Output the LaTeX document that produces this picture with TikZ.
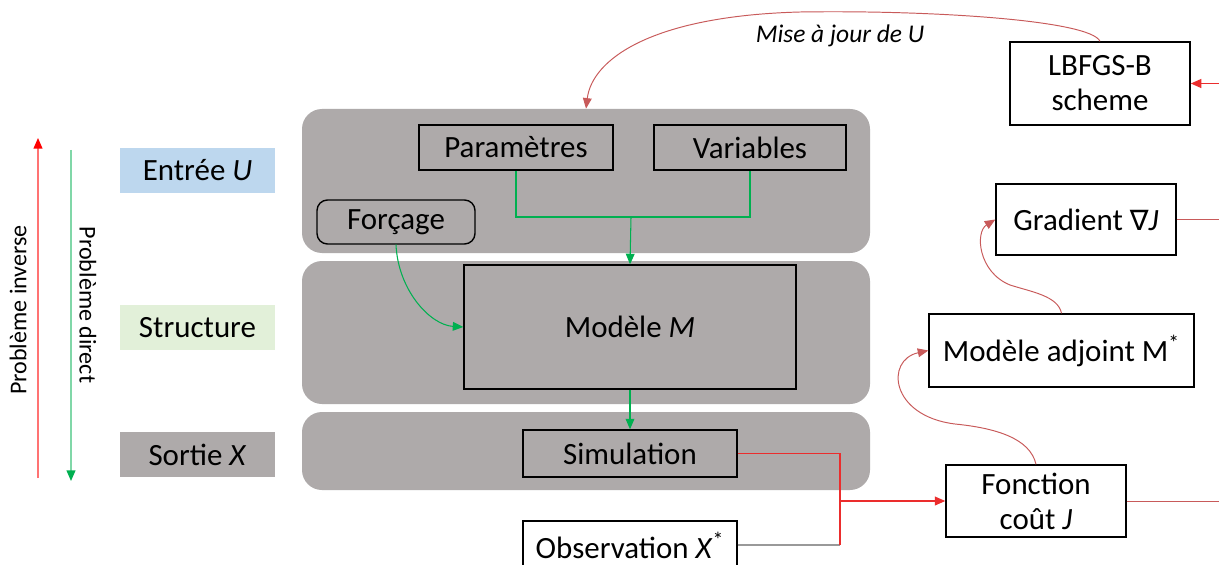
\documentclass[tikz,border=0pt]{standalone}
\usepackage{fontspec}
\setmainfont{Carlito}
\newfontfamily\symfont{DejaVu Sans}
\usetikzlibrary{positioning, calc, arrows.meta}
\newdimen\pxu \pxu=0.02cm
\definecolor{panelgray}{RGB}{174,170,170}
\definecolor{inblue}{RGB}{189,215,238}
\definecolor{strgreen}{RGB}{226,240,217}
\definecolor{fwdgreen}{RGB}{0,176,80}
\definecolor{invred}{RGB}{235,45,45}
\definecolor{updred}{RGB}{200,90,90}
\tikzset{
  sz/.style 2 args={minimum width=#1\pxu, minimum height=#2\pxu, inner sep=0},
  big panel/.style={fill=panelgray, rounded corners=0.4cm},
  side lbl/.style={sz={155}{45}},
  blk/.style={draw, line width=0.8pt},
  blk white/.style={blk, fill=white, align=center},
  tip/.style={-{Triangle[length=6pt, width=5pt]}},
  fwd edge/.style={fwdgreen, line width=0.6pt},
  inv edge/.style={invred, line width=0.9pt},
  upd edge/.style={updred, line width=0.55pt},
  lbl/.style={font=\fontsize{13.7}{16}\selectfont, inner sep=1}
}

\begin{document}
\begin{tikzpicture}[x=0.02cm, y=-0.02cm, font=\fontsize{17.6}{20}\selectfont]
\useasboundingbox[fill=white] (0,0) rectangle (1219,564);

% direction arrows
\coordinate (inv_a) at (38,478);
\coordinate (inv_b) at (38,138);
\coordinate (dir_a) at (71,150);
\coordinate (dir_b) at (71,481);
\draw[red!55, line width=0.8pt, -{Triangle[length=6pt, width=5pt, red]}] (inv_a) -- (inv_b);
\draw[fwdgreen!50, line width=0.8pt, -{Triangle[length=6pt, width=5pt, fwdgreen]}] (dir_a) -- (dir_b);
\node[lbl, rotate=90] (inv_lbl) at (18,310) {Problème inverse};
\node[lbl, rotate=-90] (dir_lbl) at (88,305) {Problème direct};

% level labels
\node[side lbl, fill=inblue] (entree) at (197.5,170.5) {Entrée \textit{U}};
\node[side lbl, fill=strgreen] (struct) at (197.5,327.5) {Structure};
\node[side lbl, fill=panelgray] (sortie) at (197.5,454.5) {Sortie \textit{X}};

% panels
\node[big panel, sz={568}{144}] (p1) at (586,181) {};
\node[big panel, sz={568}{143}] (p2) at (586,332.5) {};
\node[big panel, sz={568}{78}] (p3) at (586,451) {};

% forward model
\node[blk, sz={194}{45}] (param) at (516,147.5) {Paramètres};
\node[blk, sz={192}{45}] (var) at (750,147.5) {Variables};
\node[blk, sz={158}{44}, rounded corners=6pt] (forc) at (396,222) {Forçage};
\node[blk, sz={332}{124}] (mod) at (630,327) {Modèle \textit{M}};
\node[blk, sz={214}{47}] (sim) at (630,453.5) {Simulation};
\node[blk white, sz={214}{48}] (obs) at (630,545) {Observation \textit{X}\textsuperscript{*}};

% inverse loop
\node[blk white, sz={180}{72}] (fct) at (1036,501) {Fonction\\coût \textit{J}};
\node[blk white, sz={265}{73}] (adj) at (1061.5,350.5) {Modèle adjoint M\textsuperscript{*}};
\node[blk white, sz={180}{71}] (grad) at (1086,219.5) {Gradient {\symfont\fontsize{16}{20}\selectfont ∇}\textit{J}};
\node[blk white, sz={180}{83}] (lbfgs) at (1100,83.5) {LBFGS-B\\scheme};

\coordinate (jn) at (631,217);
\draw[fwd edge] (param.south) |- (jn) -| (var.south);
\draw[fwd edge, tip] (jn) -- (mod.north);
\draw[fwd edge, tip] (forc.south) .. controls (398,290) and (430,325) .. (mod.west);
\draw[fwd edge, tip] (mod.south) -- (sim.north);

\coordinate (jr) at (840,501);
\coordinate (jo) at (obs.east -| jr);
\draw[inv edge] (sim.east) -| (jr);
\draw[gray!80, line width=0.6pt] (obs.east) -- (jo);
\draw[inv edge] (jo) -- (jr);
\draw[inv edge, tip] (jr) -- (fct.west);

\coordinate (fct_out) at (1219,501);
\coordinate (grad_out) at (1219,219.5);
\coordinate (lbfgs_in) at (1219,83.5);
\draw[upd edge] (fct.east) -- (fct_out);
\draw[upd edge] (grad.east) -- (grad_out);
\draw[inv edge, tip] (lbfgs_in) -- (lbfgs.east);

\draw[upd edge, tip] (fct.north) .. controls (1030,438) and (995,428) .. (955,424)
  .. controls (890,416) and (885,360) .. (adj.west);
\draw[upd edge, tip] (adj.north) .. controls (1058,296) and (1032,292) .. (1010,285)
  .. controls (978,272) and (975,232) .. (grad.west);
\draw[upd edge, tip] (lbfgs.north) .. controls (1090,20) and (930,10) .. (800,12)
  .. controls (650,16) and (592,60) .. (p1.north);
\node[lbl, font=\fontsize{14.5}{17}\selectfont\itshape] (maj_lbl) at (840,36) {Mise à jour de U};

\end{tikzpicture}
\end{document}
